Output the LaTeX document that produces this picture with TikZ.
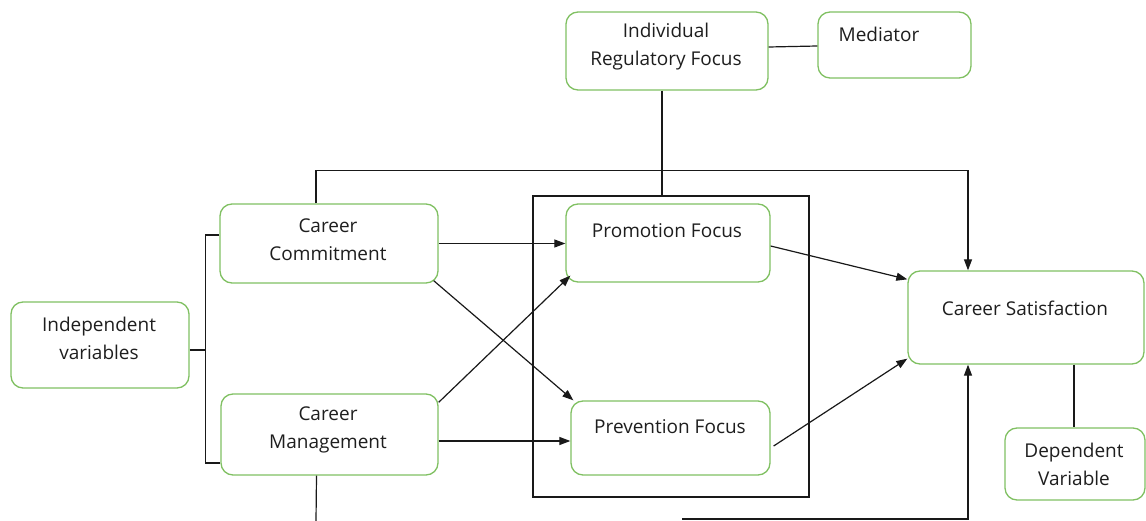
\documentclass[tikz,border=0pt]{standalone}
\usepackage{fontspec}
\setmainfont{Open Sans}
\usetikzlibrary{arrows.meta}
\definecolor{boxgreen}{RGB}{128,192,98}
\definecolor{txt}{RGB}{30,30,30}
\tikzset{
  box/.style={draw=boxgreen, line width=1.3pt, rounded corners=12pt, inner sep=0pt},
  lbl/.style={text=txt, align=center, inner sep=0pt, font=\fontsize{19}{28}\selectfont},
  ln/.style={draw=black!90, line width=1.2pt},
  arr/.style={ln, -{Triangle[length=11pt,width=8pt]}}
}
\begin{document}
\begin{tikzpicture}[x=1pt,y=-1pt]
\useasboundingbox (0,0) rectangle (1146,521);
% boxes
\node[box, minimum width=202pt, minimum height=78pt] (irf) at (667,51) {};
\node[box, minimum width=153pt, minimum height=66pt] (med) at (894.5,45) {};
\node[box, minimum width=218pt, minimum height=79pt] (cc) at (329,243.5) {};
\node[box, minimum width=217pt, minimum height=81pt] (cm) at (329.5,434.5) {};
\node[box, minimum width=178pt, minimum height=86pt] (iv) at (100,345) {};
\node[box, minimum width=204pt, minimum height=78pt] (pro) at (668,243) {};
\node[box, minimum width=199pt, minimum height=74pt] (pre) at (670.5,438) {};
\node[box, minimum width=236pt, minimum height=93pt] (cs) at (1026,317.5) {};
\node[box, minimum width=140pt, minimum height=72pt] (dv) at (1075,464) {};
\node[draw=black!90, line width=1.4pt, minimum width=276pt, minimum height=301pt, inner sep=0pt] (frame) at (671,346.5) {};
% texts
\node[lbl] (irft) at (666,47) {Individual\\Regulatory Focus};
\node[lbl] (medt) at (879,34) {Mediator};
\node[lbl] (cct) at (328,240) {Career\\Commitment};
\node[lbl] (cmt) at (328,430) {Career\\Management};
\node[lbl] (ivt) at (99,338) {Independent\\variables};
\node[lbl] (prot) at (667,231) {Promotion Focus};
\node[lbl] (pret) at (670,427) {Prevention Focus};
\node[lbl] (cst) at (1025,308) {Career Satisfaction};
\node[lbl] (dvt) at (1074,464) {Dependent\\Variable};
% bracket
\coordinate (brk) at (206,350);
\draw[ln] ([yshift=-5pt]iv.east) -- (brk);
\draw[ln] ([yshift=8.5pt]cc.west) -- ++(-14,0) |- ([yshift=-28.5pt]cm.west);
% mediator links
\draw[ln] ([yshift=4pt]irf.east) -- ([yshift=-1pt]med.west);
\draw[ln] ([xshift=-5pt]irf.south) -- ([xshift=-9pt]frame.north);
% top loop
\draw[arr] ([xshift=-13pt]cc.north) -- ++(0,-33) -| ([xshift=-58pt]cs.north);
% bottom lines
\coordinate (cmend) at (316,521);
\draw[ln] ([xshift=-13pt]cm.south) -- (cmend);
\coordinate (bstart) at (682,519);
\draw[arr] (bstart) -| ([xshift=-58pt]cs.south);
% arrows
\draw[arr] (cc.east) -- (cc.east -| pro.west);
\draw[arr] ([xshift=-5pt,yshift=3pt]cc.south east) -- ([xshift=3pt]pre.north west);
\draw[arr] ([yshift=-9pt]cm.north east) -- ([xshift=5pt,yshift=7pt]pro.south west);
\draw[arr] ([yshift=-6.5pt]cm.east) -- ([yshift=-6.5pt]cm.east -| pre.west);
\draw[arr] ([yshift=-3pt]pro.east) -- ([yshift=-9pt]cs.north west);
\draw[arr] ([xshift=3pt,yshift=-8pt]pre.east) -- ([yshift=6pt]cs.south west);
\draw[ln] ([xshift=48pt]cs.south) -- ([xshift=-1pt]dv.north);
\end{tikzpicture}
\end{document}
